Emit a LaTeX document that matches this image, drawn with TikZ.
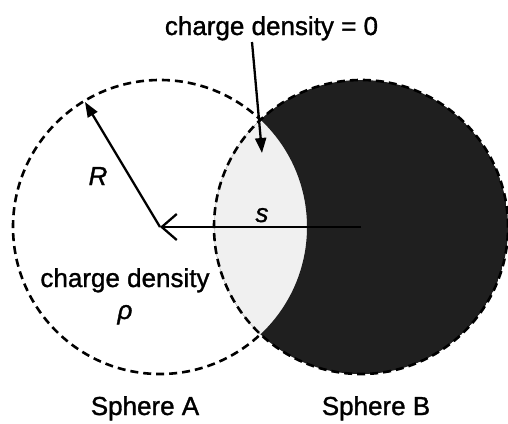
\documentclass[tikz,border=0pt]{standalone}
\usepackage{fontspec}
\setmainfont{Liberation Sans}
\newfontfamily\lblfont{Liberation Sans}[FakeBold=1.2]
\usetikzlibrary{arrows.meta}
\begin{document}
\begin{tikzpicture}[x=1pt,y=-1pt,
  lbl/.style={inner sep=0pt,anchor=base,font=\lblfont\fontsize{26}{30}\selectfont},
  outline/.style={line width=2.6pt,dash pattern=on 8pt off 5pt},
  arr/.style={line width=2.3pt},
  solidtip/.style={-{Triangle[length=15pt,width=11pt]}},
  opentip/.style={-{Straight Barb[length=15pt,width=26pt,line width=2.3pt]}}]
\useasboundingbox (0,0) rectangle (508,423);
\fill[white] (0,0) rectangle (508,423);
\coordinate (cA) at (160,227);
\coordinate (cB) at (361,227);
\def\rad{147pt}
% light overlap region
\begin{scope}
  \clip (cA) circle[radius=\rad];
  \fill[black!6] (cB) circle[radius=\rad];
\end{scope}
% dark region B minus A
\begin{scope}
  \clip (cB) circle[radius=\rad];
  \fill[black!88,even odd rule] (cB) circle[radius=\rad] (cA) circle[radius=\rad];
\end{scope}
% outline of B
\draw[outline,black] (cB) circle[radius=\rad];
% outline of A outside B
\begin{scope}[even odd rule]
  \clip (-10,-10) rectangle (520,440) (cB) circle[radius=\rad];
  \draw[outline] (cA) circle[radius=\rad];
\end{scope}
% labels
\node[lbl] (top) at (271.5,35) {charge density = 0};
\node[lbl] (lR) at (98,185) {\textit{R}};
\node[lbl] (ls) at (262,222) {\textit{s}};
\node[lbl] (lcd) at (125,287) {charge density};
\node[lbl] (lrho) at (125,319) {\textit{ρ}};
\node[lbl] (sA) at (145,415) {Sphere A};
\node[lbl] (sB) at (376,415) {Sphere B};
% arrows
\coordinate (Rtip) at (85,102);
\coordinate (zTail) at (252,42);
\coordinate (zTip) at (262,153);
\draw[arr,solidtip] (cA) -- (Rtip);
\draw[arr,solidtip] (zTail) -- (zTip);
\draw[arr,opentip] (cB) -- (cA);
\end{tikzpicture}
\end{document}
